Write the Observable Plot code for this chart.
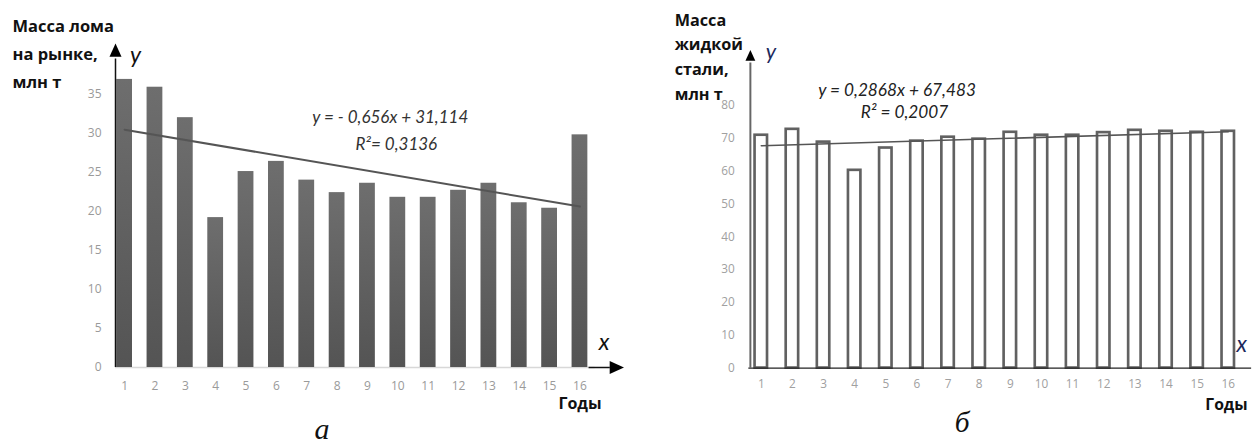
<!DOCTYPE html>
<html><head><meta charset="utf-8">
<script src="https://cdn.jsdelivr.net/npm/d3@7"></script>
<script src="https://cdn.jsdelivr.net/npm/@observablehq/plot@0.6"></script>
<style>
html,body{margin:0;padding:0;background:#fff;overflow:hidden;width:1258px;height:445px}
#a{position:absolute;left:0;top:0}
#b{position:absolute;left:629px;top:0}
</style></head><body><div id="a"></div><div id="b"></div>
<script>
// ---- data ----
const years = [1,2,3,4,5,6,7,8,9,10,11,12,13,14,15,16];
const scrapMass = [36.9, 35.9, 32.0, 19.2, 25.1, 26.4, 24.0, 22.4, 23.6, 21.8, 21.8, 22.7, 23.6, 21.1, 20.4, 29.8];
const steelMass = [71.0, 72.8, 68.9, 60.3, 67.1, 69.2, 70.4, 69.8, 71.9, 71.0, 71.0, 71.8, 72.5, 72.2, 71.9, 72.2];
const yTicksA = [0,5,10,15,20,25,30,35];
const yTicksB = [0,10,20,30,40,50,60,70,80];
const trendA = {slope: -0.656, intercept: 31.114};
const trendB = {slope: 0.2868, intercept: 67.483};
const eqA = ["y = - 0,656x + 31,114", "R²= 0,3136"];
const eqB = ["y = 0,2868x + 67,483", "R² = 0,2007"];
const yLabelA = ["Масса лома", "на рынке,", "млн т"];
const yLabelB = ["Масса", "жидкой", "стали,", "млн т"];
const xLabel = ["Годы"];
const captions = ["а", "б"];

const dataA = years.map((yr,i)=>({year: yr, value: scrapMass[i]}));
const dataB = years.map((yr,i)=>({year: yr, value: steelMass[i]}));
const trendLine = (t)=>[years[0], years[years.length-1]].map(x=>({x, y: t.slope*x + t.intercept}));

// filled arrowheads with the tip at the origin
const arrowUp = {draw(ctx, size){ const r=Math.sqrt(size/Math.PI); ctx.moveTo(0,0); ctx.lineTo(-r,2.2*r); ctx.lineTo(r,2.2*r); ctx.closePath(); }};
const arrowRight = {draw(ctx, size){ const r=Math.sqrt(size/Math.PI); ctx.moveTo(0,0); ctx.lineTo(-2.2*r,-r); ctx.lineTo(-2.2*r,r); ctx.closePath(); }};

const sans = "'Open Sans', sans-serif";
const serif = "'Liberation Serif', 'DejaVu Serif', serif";
const ital = "Lato, 'Open Sans', sans-serif";

// ---- chart a ----
const plotA = Plot.plot({
  width: 629, height: 445,
  marginLeft: 115, marginRight: 4, marginTop: 43, marginBottom: 78,
  x: {domain: [0.7, 17.5], axis: null},
  y: {domain: [0, 41.5], axis: null},
  style: {fontFamily: sans, background: "transparent", overflow: "visible"},
  marks: [
    Plot.axisY(yTicksA, {tickSize: 0, tickPadding: 14, fontSize: 12, color: "#9a9a9a", label: null}),
    Plot.axisX(years, {tickSize: 0, tickPadding: 14, fontSize: 12, color: "#9a9a9a", label: null}),
    Plot.ruleY([0], {x1: 0.7, x2: 16.5, stroke: "#d8d8d8", strokeWidth: 1.5}),
    Plot.rectY(dataA, {x1: d=>d.year-0.26, x2: d=>d.year+0.26, y: "value", fill: "url(#gradA)"}),
    Plot.line(trendLine(trendA), {x: "x", y: "y", stroke: "#555", strokeWidth: 2}),
    Plot.ruleX([0.7], {y1: 0, y2: 39.5, stroke: "#111", strokeWidth: 1.5}),
    Plot.ruleY([0], {x1: 16.3, x2: 17.0, stroke: "#111", strokeWidth: 1.5}),
    Plot.dot([{x: 0.7, y: 41.5}], {x: "x", y: "y", symbol: arrowUp, r: 6, fill: "#000", stroke: "none"}),
    Plot.dot([{x: 17.45, y: 0}], {x: "x", y: "y", symbol: arrowRight, r: 6.5, fill: "#000", stroke: "none"}),
    Plot.text(["y"], {x: 0.7, y: 41.5, dx: 20, dy: 12, fontSize: 23, fontStyle: "italic", fontFamily: ital, fill: "#111"}),
    Plot.text(["x"], {x: 17.45, y: 0, dx: -20, dy: -25, fontSize: 23, fontStyle: "italic", fontFamily: ital, fill: "#111"}),
    Plot.text(xLabel, {x: 16, y: 0, dx: 0, dy: 36, fontSize: 16, fontWeight: "bold", fill: "#111"}),
    Plot.text([eqA[0]], {x: 9.75, y: 32.05, fontSize: 17, fontStyle: "italic", fontFamily: ital, fill: "#333"}),
    Plot.text([eqA[1]], {x: 9.95, y: 28.5, fontSize: 17, fontStyle: "italic", fontFamily: ital, fill: "#333"}),
    Plot.text([yLabelA.join("\n")], {frameAnchor: "top-left", dx: -103, dy: -32, textAnchor: "start", lineAnchor: "top", lineHeight: 1.72, fontSize: 16.5, fontWeight: "bold", fill: "#111"}),
    Plot.text([captions[0]], {x: 7.5, y: 0, dy: 62, fontSize: 30, fontStyle: "italic", fontFamily: serif, fill: "#111"})
  ]
});
d3.select(plotA).insert("defs", ":first-child").html(
  '<linearGradient id="gradA" x1="0" y1="0" x2="0" y2="1"><stop offset="0" stop-color="#6e6e6e"/><stop offset="1" stop-color="#545454"/></linearGradient>');
document.getElementById("a").appendChild(plotA);

// ---- chart б ----
const plotB = Plot.plot({
  width: 640, height: 445,
  marginLeft: 123, marginRight: 7, marginTop: 47, marginBottom: 71,
  x: {domain: [0.65, 16.75], axis: null},
  y: {domain: [0, 98], axis: null},
  style: {fontFamily: sans, background: "transparent", overflow: "visible"},
  marks: [
    Plot.axisY(yTicksB, {tickSize: 0, tickPadding: 16, fontSize: 12, color: "#a0a0a0", label: null}),
    Plot.axisX(years, {tickSize: 0, tickPadding: 12, fontSize: 12, color: "#a0a0a0", label: null}),
    Plot.rectY(dataB, {x1: d=>d.year-0.2, x2: d=>d.year+0.2, y: "value", fill: "#fff", stroke: "#616161", strokeWidth: 2.7}),
    Plot.line(trendLine(trendB), {x: "x", y: "y", stroke: "#555", strokeWidth: 1.6}),
    Plot.ruleX([0.65], {y1: 0, y2: 93, stroke: "#666", strokeWidth: 2}),
    Plot.ruleY([0], {x1: 0.6, x2: 16.75, stroke: "#222", strokeWidth: 1.3}),
    Plot.dot([{x: 0.65, y: 97}], {x: "x", y: "y", symbol: arrowUp, r: 5, fill: "#000", stroke: "none"}),
    Plot.text(["y"], {x: 0.65, y: 97, dx: 21, dy: 2, fontSize: 22, fontStyle: "italic", fontFamily: ital, fill: "#1c2a5c"}),
    Plot.text(["x"], {x: 16.75, y: 0, dx: -10, dy: -24, fontSize: 23, fontStyle: "italic", fontFamily: ital, fill: "#1c2a5c"}),
    Plot.text(xLabel, {x: 16.75, y: 0, dx: -4, dy: 38, fontSize: 16, fontWeight: "bold", fill: "#111", textAnchor: "end"}),
    Plot.text([eqB[0]], {x: 5.36, y: 84.6, fontSize: 17.5, fontStyle: "italic", fontFamily: ital, fill: "#222"}),
    Plot.text([eqB[1]], {x: 5.6, y: 78.0, fontSize: 17.5, fontStyle: "italic", fontFamily: ital, fill: "#222"}),
    Plot.text([yLabelB.join("\n")], {frameAnchor: "top-left", dx: -77, dy: -39, textAnchor: "start", lineAnchor: "top", lineHeight: 1.52, fontSize: 16.5, fontWeight: "bold", fill: "#111"}),
    Plot.text([captions[1]], {x: 7.45, y: 0, dy: 55, fontSize: 30, fontStyle: "italic", fontFamily: serif, fill: "#111"})
  ]
});
document.getElementById("b").appendChild(plotB);
</script></body></html>
